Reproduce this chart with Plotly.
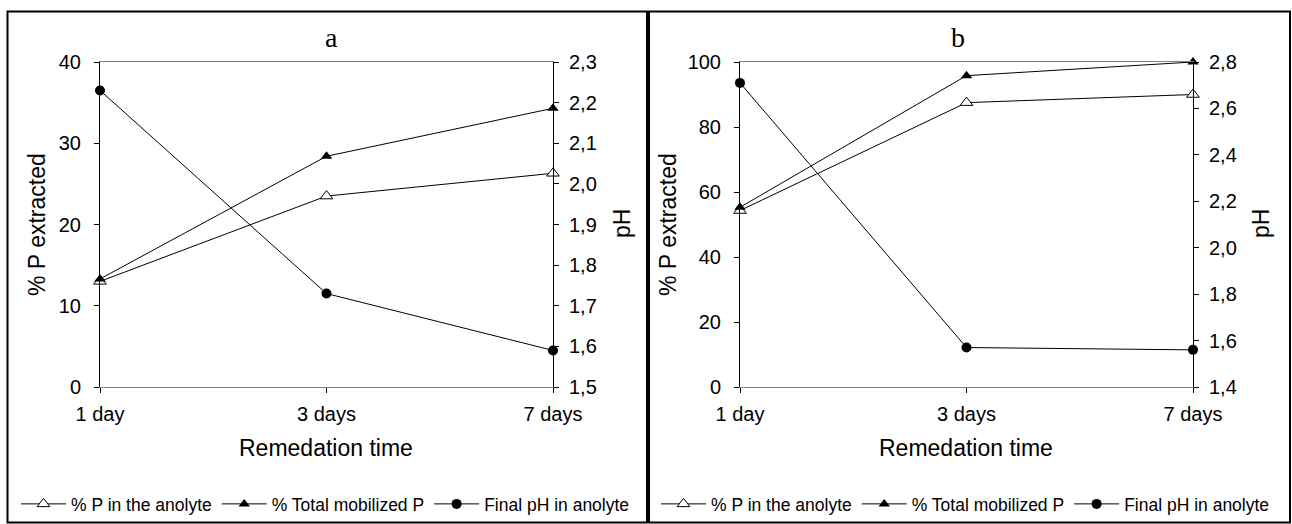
import plotly.graph_objects as go

W, H = 1292, 524

days = ["1 day", "3 days", "7 days"]
a_p_anolyte = [13.0, 23.5, 26.3]
a_total_p = [13.3, 28.4, 34.3]
a_ph = [2.23, 1.73, 1.59]
b_p_anolyte = [54.3, 87.5, 90.0]
b_total_p = [55.3, 95.8, 100.0]
b_ph = [2.71, 1.57, 1.56]

names = ["% P in the anolyte", "% Total mobilized P", "Final pH in anolyte"]
left_ticks_a = [0, 10, 20, 30, 40]
right_ticks_a = [1.5, 1.6, 1.7, 1.8, 1.9, 2.0, 2.1, 2.2, 2.3]
left_ticks_b = [0, 20, 40, 60, 80, 100]
right_ticks_b = [1.4, 1.6, 1.8, 2.0, 2.2, 2.4, 2.6, 2.8]

FONT = "Arial, Liberation Sans, sans-serif"


def px(x):
    return x / W


def py(y):
    return 1 - y / H


fig = go.Figure()

fill_tri = dict(symbol="triangle-up", size=10, color="black")
circ = dict(symbol="circle", size=10, color="black")


def add_panel(xref, yl, yr, legend, p_an, tot, ph):
    fig.add_trace(go.Scatter(x=days, y=p_an, name=names[0], mode="lines+markers",
                             line=dict(color="black", width=1),
                             marker=dict(symbol="triangle-up", size=11, color="white",
                                         line=dict(width=1, color="black")),
                             cliponaxis=False, xaxis=xref, yaxis=yl, legend=legend))
    fig.add_trace(go.Scatter(x=days, y=tot, name=names[1], mode="lines+markers",
                             line=dict(color="black", width=1), marker=fill_tri,
                             cliponaxis=False, xaxis=xref, yaxis=yl, legend=legend))
    fig.add_trace(go.Scatter(x=days, y=ph, name=names[2], mode="lines+markers",
                             line=dict(color="black", width=1), marker=circ,
                             cliponaxis=False, xaxis=xref, yaxis=yr, legend=legend))


add_panel("x", "y", "y2", "legend", a_p_anolyte, a_total_p, a_ph)
add_panel("x2", "y3", "y4", "legend2", b_p_anolyte, b_total_p, b_ph)

ydom = [py(387), py(62)]
tickfont = dict(family=FONT, size=20, color="black")

xcommon = dict(type="category", range=[0, 2], showgrid=False, zeroline=False,
               showline=True, linecolor="#808080", linewidth=1, mirror=True,
               ticks="outside", ticklen=5, tickcolor="black", tickfont=tickfont,
               ticklabelstandoff=4, fixedrange=True, automargin=False)
ycommon = dict(showgrid=False, zeroline=False, showline=True, linecolor="black",
               linewidth=1, ticks="outside", ticklen=5, tickcolor="black",
               tickfont=tickfont, fixedrange=True, automargin=False)

legfont = dict(family=FONT, size=17.5, color="black")

fig.update_layout(
    width=W, height=H,
    margin=dict(l=0, r=0, t=0, b=0, autoexpand=False),
    paper_bgcolor="white", plot_bgcolor="white",
    separators=",.",
    font=dict(family=FONT, color="black"),
    xaxis=dict(domain=[px(100), px(553)], anchor="y", **xcommon),
    yaxis=dict(domain=ydom, anchor="x", range=[0, 40], tickvals=left_ticks_a,
               ticklabelstandoff=9, **ycommon),
    yaxis2=dict(domain=ydom, anchor="x", overlaying="y", side="right", range=[1.5, 2.3],
                tickvals=right_ticks_a, tickformat=".1f", ticklabelstandoff=6, **ycommon),
    xaxis2=dict(domain=[px(740), px(1193)], anchor="y3", **xcommon),
    yaxis3=dict(domain=ydom, anchor="x2", range=[0, 100], tickvals=left_ticks_b,
                ticklabelstandoff=9, **ycommon),
    yaxis4=dict(domain=ydom, anchor="x2", overlaying="y3", side="right", range=[1.4, 2.8],
                tickvals=right_ticks_b, tickformat=".1f", ticklabelstandoff=6, **ycommon),
    legend=dict(orientation="h", x=px(16), y=py(504), xanchor="left", yanchor="middle",
                itemwidth=45, font=legfont, bgcolor="rgba(0,0,0,0)"),
    legend2=dict(orientation="h", x=px(656), y=py(504), xanchor="left", yanchor="middle",
                 itemwidth=45, font=legfont, bgcolor="rgba(0,0,0,0)"),
)

# panel frames
fig.add_shape(type="rect", xref="paper", yref="paper", x0=px(7.5), x1=px(647), y0=py(522.5), y1=py(11.5),
              line=dict(color="black", width=2))
fig.add_shape(type="rect", xref="paper", yref="paper", x0=px(649), x1=px(1290), y0=py(522.5), y1=py(11.5),
              line=dict(color="black", width=2))

ann = []
title_font = dict(family=FONT, size=23, color="black")
for xc, letter, ytx, phx, xt in [(331, "a", 37, 622, 326), (958, "b", 668, 1261, 966)]:
    ann.append(dict(text=letter, x=px(xc), y=py(38), xref="paper", yref="paper", showarrow=False,
                    xanchor="center", yanchor="middle",
                    font=dict(family="Times New Roman, Liberation Serif, serif", size=28, color="black")))
    ann.append(dict(text="% P extracted", x=px(ytx), y=py(225), xref="paper", yref="paper",
                    showarrow=False, textangle=-90, xanchor="center", yanchor="middle", font=title_font))
    ann.append(dict(text="pH", x=px(phx), y=py(224), xref="paper", yref="paper",
                    showarrow=False, textangle=-90, xanchor="center", yanchor="middle", font=title_font))
    ann.append(dict(text="Remedation time", x=px(xt), y=py(448), xref="paper", yref="paper",
                    showarrow=False, xanchor="center", yanchor="middle", font=title_font))
fig.update_layout(annotations=ann)

fig.write_html("out.html")
